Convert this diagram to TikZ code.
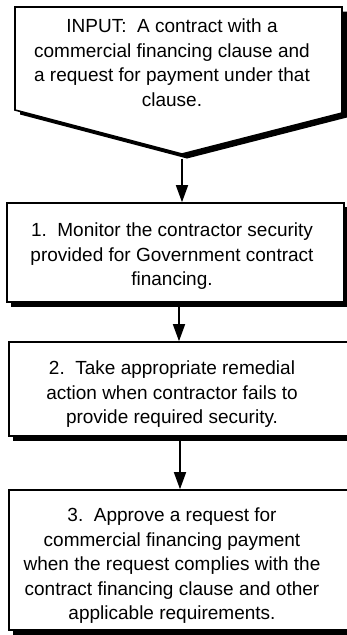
\documentclass[tikz,border=0pt]{standalone}
\usepackage{fontspec}
\setmainfont{Liberation Sans}
\usetikzlibrary{arrows.meta,backgrounds}
\begin{document}
\begin{tikzpicture}[x=1pt,y=-1pt,
  boxline/.style={line width=1.6pt},
  stepbox/.style={draw, boxline, fill=white, inner sep=0pt},
  shadowfill/.style={fill=black},
  txt/.style={anchor=north, inner sep=0pt, align=center,
    font=\fontsize{19}{24.5}\selectfont},
  arr/.style={line width=1.6pt, -{Triangle[length=17pt,width=12pt]}},
  sh/.style={xshift=5pt, yshift=-4.5pt}
]
\useasboundingbox (0,0) rectangle (347,635);
% input shape
\coordinate (in1) at (15,7);
\coordinate (in2) at (342,7);
\coordinate (in3) at (342,113);
\coordinate (tip) at (182,154);
\coordinate (in5) at (15,110);
\fill[shadowfill] ([sh]in1) -- ([sh]in2) -- ([sh]in3) -- ([sh]tip) -- ([sh]in5) -- cycle;
\filldraw[boxline, fill=white] (in1) -- (in2) -- (in3) -- (tip) -- (in5) -- cycle;
\node[txt] (tin) at (172,19) {INPUT:\ \ A contract with a\\commercial financing clause and\\a request for payment under that\\clause.};
% boxes
\node[stepbox, minimum width=337pt, minimum height=99pt] (b1) at (175.5,252.5) {};
\node[txt] (t1) at (172,223) {1.\ \ Monitor the contractor security\\provided for Government contract\\financing.};
\node[stepbox, minimum width=343pt, minimum height=94pt] (b2) at (180.5,389) {};
\node[txt] (t2) at (172,361) {2.\ \ Take appropriate remedial\\action when contractor fails to\\provide required security.};
\node[stepbox, minimum width=343pt, minimum height=140pt] (b3) at (180.5,560) {};
\node[txt] (t3) at (172,508) {3.\ \ Approve a request for\\commercial financing payment\\when the request complies with the\\contract financing clause and other\\applicable requirements.};
\begin{scope}[on background layer]
  \foreach \b in {b1,b2,b3}
    \fill[shadowfill] ([sh]\b.south west) rectangle ([sh]\b.north east);
\end{scope}
% connectors
\coordinate (s1) at ([yshift=-4.5pt]tip);
\coordinate (s2) at (179,306);
\coordinate (s3) at (180,441);
\draw[arr] (s1) -- (s1 |- b1.north);
\draw[arr] (s2) -- (s2 |- b2.north);
\draw[arr] (s3) -- (s3 |- b3.north);
\end{tikzpicture}
\end{document}
